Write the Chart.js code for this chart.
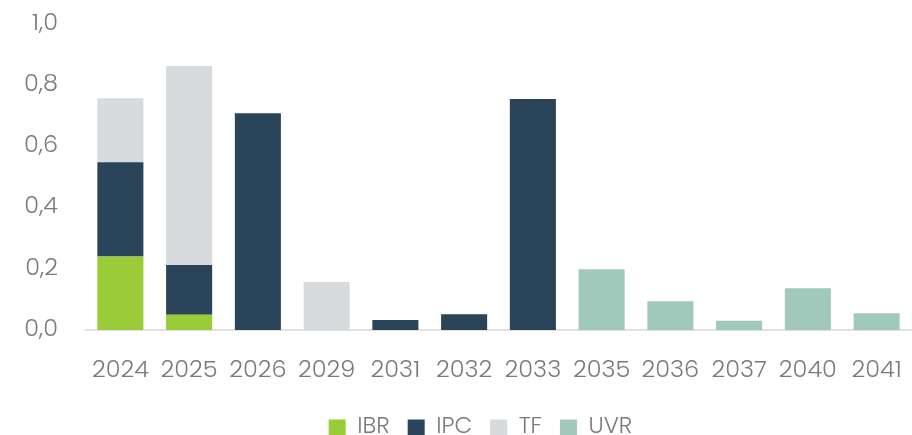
<!DOCTYPE html>
<html>
<head>
<meta charset="utf-8">
<script src="https://cdn.jsdelivr.net/npm/chart.js@4"></script>
<style>
  html, body { margin: 0; padding: 0; background: #fff; }
  #wrap { width: 912px; height: 435px; position: relative; }
</style>
</head>
<body>
<div id="wrap"><canvas id="chart"></canvas></div>
<script>
// categorias (años)
var years = ["2024", "2025", "2026", "2029", "2031", "2032", "2033", "2035", "2036", "2037", "2040", "2041"];
// series
var ibr = [0.24, 0.05, 0, 0, 0, 0, 0, 0, 0, 0, 0, 0];
var ipc = [0.307, 0.162, 0.707, 0, 0.033, 0.051, 0.754, 0, 0, 0, 0, 0];
var tf  = [0.209, 0.649, 0, 0.157, 0, 0, 0, 0, 0, 0, 0, 0];
var uvr = [0, 0, 0, 0, 0, 0, 0, 0.198, 0.094, 0.030, 0.136, 0.055];
var yTicks = [0, 0.2, 0.4, 0.6, 0.8, 1.0];

var textColor = "#7a7a7a";
var fontFam = "Poppins, 'Open Sans', 'Noto Sans', sans-serif";

//datasets
var mkSet = function(label, data, color){
	return {
		label: label,
		data: data,
		backgroundColor: color,
		borderWidth: 0,
		categoryPercentage: 1.0,
		barPercentage: 0.67
	};
};

//leyenda un poco a la derecha, como en el original
var legendShift = {
	id: 'legendShift',
	afterLayout: function(chart){
		chart.legend.left += 25;
		chart.legend.right += 25;
	}
};

var ctx = document.getElementById("chart").getContext("2d");
var myChart = new Chart(ctx, {
	type: 'bar',
	data: {
		labels: years,
		datasets: [
			mkSet("IBR", ibr, "#9ACB38"),
			mkSet("IPC", ipc, "#2A4559"),
			mkSet("TF", tf, "#D7DBDE"),
			mkSet("UVR", uvr, "#A0C9BB")
		]
	},
	plugins: [legendShift],
	options: {
		responsive: true,
		maintainAspectRatio: false,
		animation: false,
		layout: { padding: { top: 0, right: 1, left: 0, bottom: -14 } },
		plugins: {
			tooltip: { enabled: false },
			legend: {
				position: 'bottom',
				labels: {
					color: textColor,
					font: { family: fontFam, size: 23, weight: 300 },
					boxWidth: 17,
					boxHeight: 16,
					padding: 18
				}
			}
		},
		scales: {
			x: {
				stacked: true,
				grid: { display: false },
				border: { display: true, color: "#e2e2e2", width: 2 },
				ticks: {
					color: textColor,
					font: { family: fontFam, size: 24, weight: 300 },
					padding: 19,
					maxRotation: 0,
					autoSkip: false
				},
				afterFit: function(scale){
					scale.height = 68;
					scale.paddingLeft = 0;
					scale.paddingRight = 0;
				}
			},
			y: {
				stacked: true,
				min: 0,
				max: 1,
				afterBuildTicks: function(axis){
					axis.ticks = yTicks.map(function(v){ return { value: v }; });
				},
				grid: { display: false },
				border: { display: false },
				ticks: {
					color: textColor,
					font: { family: fontFam, size: 24, weight: 300 },
					padding: 20,
					callback: function(v){ return v.toFixed(1).replace(".", ","); }
				},
				afterFit: function(scale){
					scale.width = 86;
					scale.paddingTop = 23.5;
					scale.paddingBottom = 0;
				}
			}
		}
	}
});
</script>
</body>
</html>
